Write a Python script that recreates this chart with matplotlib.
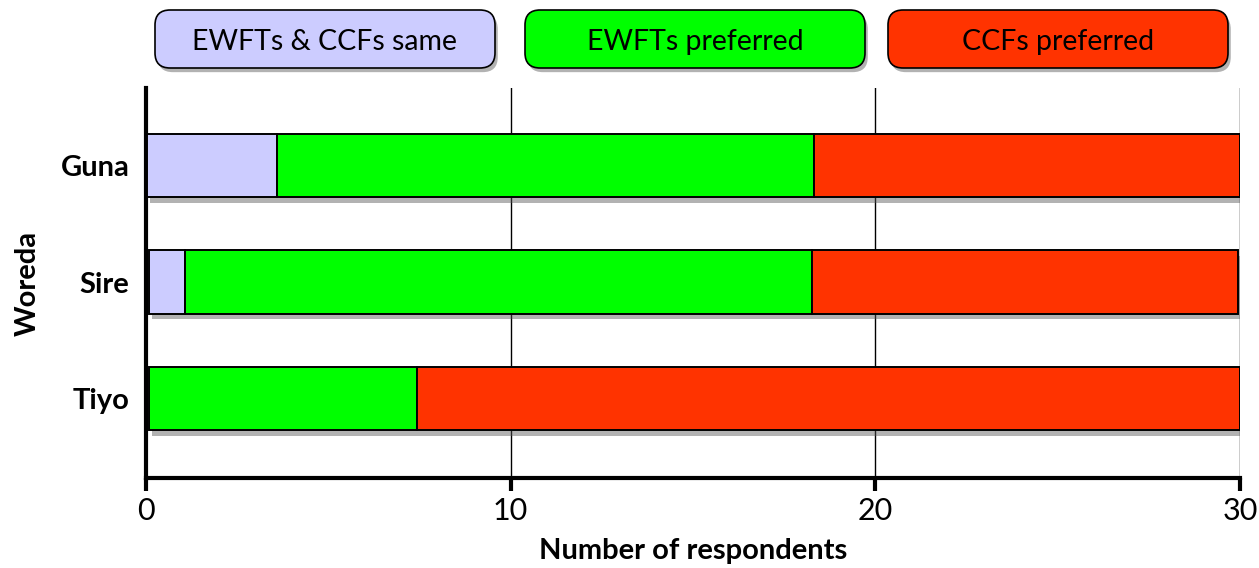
import numpy as np
import matplotlib
matplotlib.use('Agg')
import matplotlib.pyplot as plt
from matplotlib.patches import FancyBboxPatch
import matplotlib.patheffects as pe

plt.rcParams['font.family'] = ['Lato', 'DejaVu Sans']

# data (Tiyo at the bottom)
woredas = ['Tiyo', 'Sire', 'Guna']
start = [0.08, 0.09, 0.04]
same = [0.0, 0.98, 3.55]
ewft = [7.34, 17.18, 14.74]
ccf = [22.58, 11.69, 11.66]
series = ['EWFTs & CCFs same', 'EWFTs preferred', 'CCFs preferred']
colors = ['#CCCCFF', '#00FF00', '#FF3300']
xticks = [0, 10, 20, 30]

fig = plt.figure(figsize=(12.59, 5.68), dpi=100)
ax = fig.add_axes([146/1259, 1 - 478/568, 1094/1259, 390/568])

shadow = [pe.SimplePatchShadow(offset=(2, -4), shadow_rgbFace='#555555', alpha=0.45), pe.Normal()]

y = np.arange(len(woredas))
left = np.array(start, dtype=float)
for vals, col in zip([same, ewft, ccf], colors):
    vals = np.array(vals)
    keep = vals > 0
    bars = ax.barh(y[keep], vals[keep], left=left[keep], height=0.545,
                   color=col, edgecolor='black', linewidth=1.4, zorder=3)
    for b in bars:
        b.set_path_effects(shadow)
    left = left + vals

ax.set_xlim(0, 30)
ax.set_ylim(-0.68, 2.665)
ax.set_xticks(xticks)
ax.set_xticklabels([str(t) for t in xticks], fontsize=22)
ax.set_yticks(y)
ax.set_yticklabels(woredas, fontsize=21, fontweight='bold')
ax.tick_params(axis='y', length=0, pad=12)
ax.tick_params(axis='x', length=9, width=3, direction='out', pad=5)
ax.grid(axis='x', color='black', linewidth=1.0, zorder=0)
for s in ['top', 'right']:
    ax.spines[s].set_visible(False)
ax.spines['left'].set_linewidth(3)
ax.spines['bottom'].set_linewidth(3)
ax.set_xlabel('Number of respondents', fontsize=21, fontweight='bold', labelpad=9)
ax.set_ylabel('Woreda', fontsize=21, fontweight='bold', labelpad=14)

# legend boxes across the top
box_x = [155, 525, 888]
box_w = 340
for lbl, col, bx in zip(series, colors, box_x):
    p = FancyBboxPatch((bx/1259, 1 - 68/568), box_w/1259, 58/568,
                       boxstyle='round,pad=0,rounding_size=0.012',
                       transform=fig.transFigure, facecolor=col,
                       edgecolor='black', linewidth=1.2,
                       mutation_aspect=1259/568)
    p.set_path_effects([pe.SimplePatchShadow(offset=(2, -3), shadow_rgbFace='#555555', alpha=0.45), pe.Normal()])
    fig.patches.append(p)
    fig.text((bx + box_w/2)/1259, 1 - 42/568, lbl, ha='center', va='center', fontsize=20.5)

fig.savefig('out.png', dpi=100)
